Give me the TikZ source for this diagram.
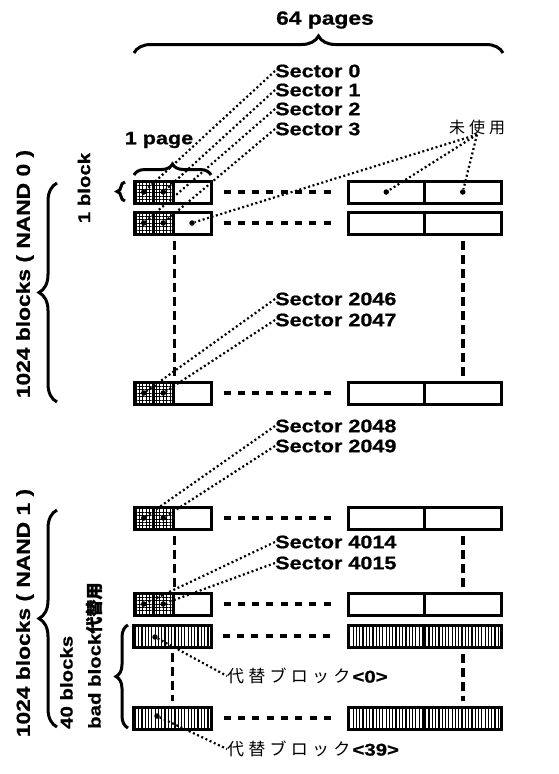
\documentclass[tikz,border=0pt]{standalone}
\usepackage{fontspec}
\newfontfamily\labfont[FakeStretch=1.2,FakeBold=0.8]{Liberation Sans}
\newfontfamily\jpfont[LetterSpace=25]{Noto Sans CJK JP}
\newfontfamily\jpboldfont[FakeBold=1.5]{Noto Sans CJK JP}
\usetikzlibrary{decorations.pathreplacing,patterns.meta}

\tikzset{
  lab/.style={inner sep=0pt, font=\labfont\bfseries\fontsize{18}{20}\selectfont},
  jp/.style={inner sep=0pt, font=\jpfont\fontsize{17}{17}\selectfont},
  cellbox/.style={draw, line width=3pt, minimum height=22pt, inner sep=0pt},
  sect/.style={cellbox, minimum width=19.5pt, pattern={Hatch[angle=0,distance=3.4pt,line width=.8pt]}},
  badblk/.style={cellbox, pattern={Lines[angle=90,distance=3.3pt,line width=1.2pt]}},
  dot/.style={circle, fill, inner sep=0pt, minimum size=5.5pt},
  pointer/.style={line width=2.2pt, dash pattern=on 2pt off 2.6pt},
  rowdash/.style={line width=3.5pt, dash pattern=on 7pt off 7.3pt, shorten <=11pt, shorten >=12pt},
  coldash/.style={line width=3.5pt, dash pattern=on 9pt off 5pt, shorten <=5pt, shorten >=5pt},
  bracebig/.style={decorate, decoration={brace, amplitude=#1}, line width=3pt}
}

\begin{document}
\begin{tikzpicture}[x=1pt,y=-1pt]
\useasboundingbox (0,0) rectangle (558,774);

% blocks with sectors
\foreach \n/\y in {1/192,2/223,3/393,4/518,5/604}{
  \node[sect] (G\n) at (143.75,\y) {};
  \node[sect] (H\n) at (163.25,\y) {};
  \node[cellbox, minimum width=38pt] (W\n) at (192,\y) {};
  \node[cellbox, minimum width=76.5pt] (P\n) at (386.25,\y) {};
  \node[cellbox, minimum width=76.5pt] (Q\n) at (462.75,\y) {};
  \node[dot] (g\n) at (G\n) {};
  \node[dot] (h\n) at (H\n) {};
  \draw[rowdash] (W\n.east) -- (P\n.west);
}
% spare blocks
\foreach \n/\y in {6/636,7/718}{
  \node[badblk, minimum width=77.5pt] (L\n) at (172.5,\y) {};
  \node[badblk, minimum width=76.5pt] (P\n) at (386.25,\y) {};
  \node[badblk, minimum width=76.5pt] (Q\n) at (462.75,\y) {};
  \draw[rowdash] (L\n.east) -- (P\n.west);
}
\draw[coldash] (H2.south east) -- (H3.north east);
\draw[coldash] (Q2.south) -- (Q3.north);
\draw[coldash] (H4.south east) -- (H5.north east);
\draw[coldash] (Q4.south) -- (Q5.north);
\draw[coldash] (L6.south) -- (L7.north);
\draw[coldash] (Q6.south) -- (Q7.north);

\node[dot] (u1) at (P1) {};
\node[dot] (u2) at (Q1) {};
\node[dot] (u3) at (W2) {};
\node[dot] (c6) at (155,637) {};
\node[dot] (c7) at (157,716) {};

% sizes
\node[lab, font=\labfont\bfseries\fontsize{19}{20}\selectfont] (pages) at (325,20) {64 pages};
\draw[bracebig=17] (134,53) -- (503,53);
\node[lab] (page) at (159,140) {1 page};
\draw[bracebig=11] (134,175) -- (211,175);
\node[lab, rotate=90, font=\labfont\bfseries\fontsize{17}{20}\selectfont] (blk) at (84,188) {1 block};
\draw[bracebig=8] (125,201) -- (125,182);
\node[lab, rotate=90, font=\labfont\bfseries\fontsize{19}{20}\selectfont] (nand0) at (25,274) {1024 blocks ( NAND 0 )};
\draw[bracebig=18] (57,402) -- (57,183);
\node[lab, rotate=90, font=\labfont\bfseries\fontsize{19}{20}\selectfont] (nand1) at (25,613) {1024 blocks ( NAND 1 )};
\draw[bracebig=18] (57,727) -- (57,510);
\node[lab, rotate=90, align=left, anchor=north west, font=\labfont\bfseries\fontsize{17}{28}\selectfont] (spare) at (60,729) {40 blocks\\bad block{\jpboldfont 代替用}};
\draw[bracebig=12] (128,728) -- (128,625);

% sector labels
\node[lab, anchor=west] (s0) at (275,71) {Sector 0};
\node[lab, anchor=west] (s1) at (275,90) {Sector 1};
\node[lab, anchor=west] (s2) at (275,109) {Sector 2};
\node[lab, anchor=west] (s3) at (275,129) {Sector 3};
\node[lab, anchor=west] (s2046) at (275,299) {Sector 2046};
\node[lab, anchor=west] (s2047) at (275,320) {Sector 2047};
\node[lab, anchor=west] (s2048) at (275,426) {Sector 2048};
\node[lab, anchor=west] (s2049) at (275,446) {Sector 2049};
\node[lab, anchor=west] (s4014) at (275,542) {Sector 4014};
\node[lab, anchor=west] (s4015) at (275,563) {Sector 4015};
\draw[pointer] (s0.west) -- (g1);
\draw[pointer] (s1.west) -- (h1);
\draw[pointer] (s2.west) -- (g2);
\draw[pointer] (s3.west) -- (h2);
\draw[pointer] (s2046.west) -- (g3);
\draw[pointer] (s2047.west) -- (h3);
\draw[pointer] (s2048.west) -- (g4);
\draw[pointer] (s2049.west) -- (h4);
\draw[pointer] (s4014.west) -- (g5);
\draw[pointer] (s4015.west) -- (h5);

% unused area
\node[jp, font=\jpfont\fontsize{16}{16}\selectfont] (unused) at (477,127) {未\hspace{4pt}使\hspace{4pt}用};
\draw[pointer] (unused.south) -- (u1);
\draw[pointer] (unused.south) -- (u2);
\draw[pointer] (unused.south) -- (u3);

% replacement blocks
\node[jp, anchor=west] (rep0) at (227,676) {代替ブロック\hspace{2pt}{\labfont\bfseries <0>}};
\node[jp, anchor=west] (rep39) at (227,749) {代替ブロック\hspace{2pt}{\labfont\bfseries <39>}};
\draw[pointer] (c6) -- (rep0.west);
\draw[pointer] (c7) -- (rep39.west);

\end{tikzpicture}
\end{document}
